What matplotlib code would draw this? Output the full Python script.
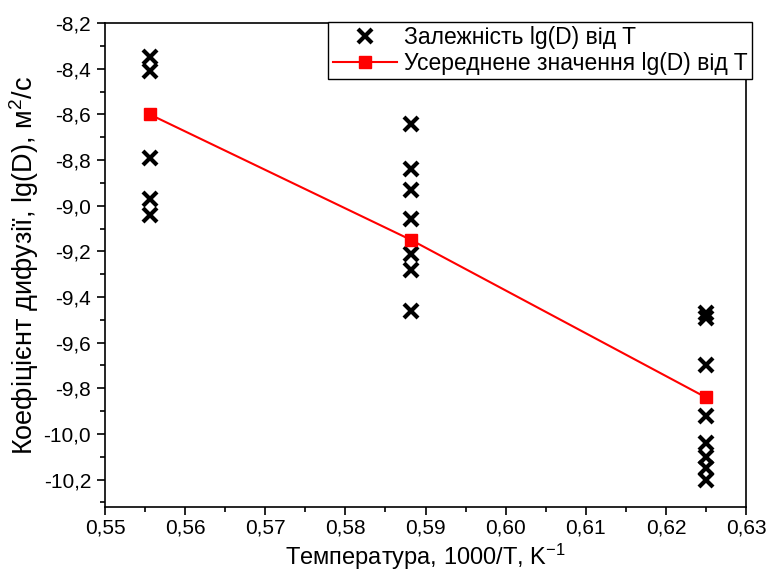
import matplotlib
matplotlib.use("Agg")
import matplotlib.pyplot as plt
from matplotlib.ticker import MultipleLocator, FuncFormatter

plt.rcParams['font.family'] = ['Liberation Sans', 'DejaVu Sans']
plt.rcParams['mathtext.fontset'] = 'custom'
plt.rcParams['mathtext.rm'] = 'Liberation Sans'
plt.rcParams['mathtext.it'] = 'Liberation Sans'
plt.rcParams['mathtext.default'] = 'regular'

# Data
x1 = 0.5556
x2 = 0.5882
x3 = 0.6250
y1 = [-8.35, -8.41, -8.79, -8.97, -9.04]
y2 = [-8.64, -8.84, -8.93, -9.06, -9.21, -9.28, -9.46]
y3 = [-9.47, -9.49, -9.70, -9.92, -10.04, -10.10, -10.15, -10.20]
avg_x = [x1, x2, x3]
avg_y = [-8.60, -9.15, -9.84]

scatter_x = [x1] * len(y1) + [x2] * len(y2) + [x3] * len(y3)
scatter_y = y1 + y2 + y3

fig = plt.figure(figsize=(7.68, 5.79), dpi=100)
ax = fig.add_axes([0.1367, 0.1244, 0.8347, 0.8356])

ax.plot(scatter_x, scatter_y, linestyle='none', marker='x', color='black',
        markersize=10, markeredgewidth=3, label='Залежність lg(D) від T', zorder=3)
ax.plot(avg_x, avg_y, color='red', linewidth=1.5, marker='s', markersize=9,
        markerfacecolor='red', markeredgecolor='red', label='Усереднене значення lg(D) від T', zorder=4)

ax.set_xlim(0.55, 0.63)
ax.set_ylim(-10.32, -8.2)
ax.xaxis.set_major_locator(MultipleLocator(0.01))
ax.xaxis.set_minor_locator(MultipleLocator(0.005))
ax.yaxis.set_major_locator(MultipleLocator(0.2))
ax.yaxis.set_minor_locator(MultipleLocator(0.1))
ax.xaxis.set_major_formatter(FuncFormatter(lambda v, p: f"{v:.2f}".replace('.', ',')))
ax.yaxis.set_major_formatter(FuncFormatter(lambda v, p: f"{v:.1f}".replace('.', ',')))

ax.tick_params(axis='both', which='major', direction='out', length=6, width=1.2, labelsize=15, pad=4)
ax.tick_params(axis='x', which='major', pad=2.5)
ax.tick_params(axis='both', which='minor', direction='out', length=3.5, width=1.2)
ax.tick_params(top=False, right=False, which='both')
for s in ax.spines.values():
    s.set_linewidth(1.2)

ax.set_xlabel('Температура, 1000/T, K$^{-1}$', fontsize=17, labelpad=3)
ax.set_ylabel('Коефіцієнт дифузії, lg(D), м$^{2}$/с', fontsize=19.5, labelpad=2)

leg = ax.legend(loc='upper right', bbox_to_anchor=(1.009, 1.003), fontsize=16.5,
                frameon=True, fancybox=False, framealpha=1, edgecolor='black',
                borderpad=0.2, handlelength=2.8, handletextpad=0.3, labelspacing=0.1,
                borderaxespad=0)
leg.get_frame().set_linewidth(1.0)
leg.set_zorder(10)

fig.savefig('out.png', dpi=100)
